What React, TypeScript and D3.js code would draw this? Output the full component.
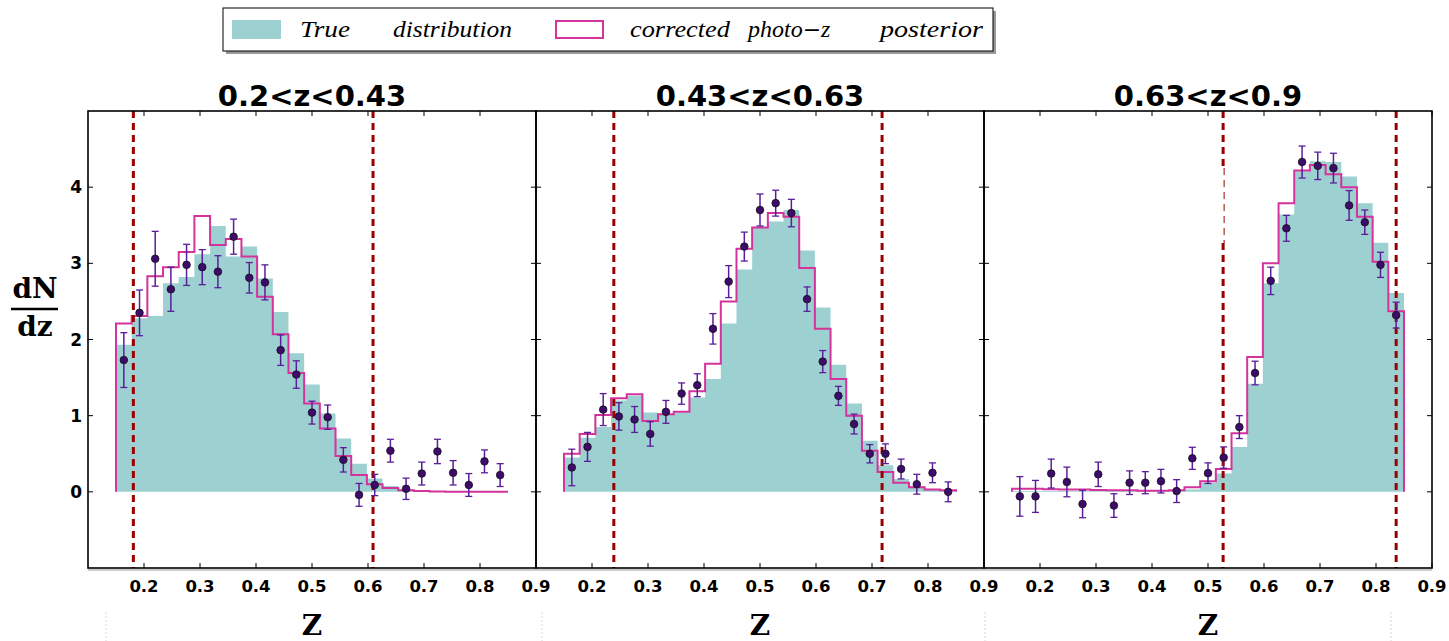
import React from "react";
import * as d3 from "d3";

// ---------- data ----------
const binEdges = [0.150, 0.178, 0.206, 0.234, 0.262, 0.290, 0.318, 0.346, 0.374, 0.402, 0.430, 0.458, 0.486, 0.514, 0.542, 0.570, 0.598, 0.626, 0.654, 0.682, 0.710, 0.738, 0.766, 0.794, 0.822, 0.850];

const panelTitles = ["0.2<z<0.43", "0.43<z<0.63", "0.63<z<0.9"];

const p1True = [1.93, 2.28, 2.31, 2.74, 2.82, 3.12, 3.49, 3.09, 3.22, 2.80, 2.36, 1.82, 1.41, 1.03, 0.70, 0.37, 0.175, 0.075, 0.03, 0.01, 0.005, 0, 0, 0, 0];
const p1Corr = [2.21, 2.31, 2.83, 2.95, 3.15, 3.62, 3.24, 3.32, 3.09, 2.56, 2.07, 1.56, 1.16, 0.83, 0.47, 0.22, 0.10, 0.05, 0.02, 0.01, 0.005, 0, 0, 0, 0];
const p1Pts = [1.73, 2.35, 3.06, 2.66, 2.98, 2.95, 2.89, 3.35, 2.81, 2.75, 1.86, 1.54, 1.04, 0.98, 0.42, -0.04, 0.09, 0.54, 0.04, 0.24, 0.53, 0.25, 0.09, 0.40, 0.22];
const p1Err = [0.36, 0.30, 0.36, 0.29, 0.27, 0.23, 0.21, 0.23, 0.20, 0.23, 0.20, 0.18, 0.15, 0.16, 0.16, 0.15, 0.14, 0.15, 0.14, 0.15, 0.16, 0.16, 0.15, 0.15, 0.15];

const p2True = [0.45, 0.71, 0.85, 1.20, 1.26, 1.04, 1.02, 1.04, 1.24, 1.48, 2.21, 2.92, 3.47, 3.55, 3.70, 3.17, 2.42, 1.67, 1.16, 0.67, 0.35, 0.17, 0.07, 0.03, 0.01];
const p2Corr = [0.50, 0.76, 1.01, 1.23, 1.28, 0.93, 1.02, 1.05, 1.32, 1.68, 2.50, 3.19, 3.47, 3.66, 3.61, 2.94, 2.14, 1.48, 1.00, 0.54, 0.26, 0.12, 0.06, 0.03, 0.02];
const p2Pts = [0.32, 0.59, 1.08, 0.99, 0.95, 0.76, 1.05, 1.29, 1.40, 2.14, 2.76, 3.22, 3.70, 3.79, 3.66, 2.53, 1.71, 1.26, 0.89, 0.50, 0.50, 0.30, 0.10, 0.25, 0.00];
const p2Err = [0.24, 0.19, 0.21, 0.18, 0.17, 0.16, 0.15, 0.14, 0.15, 0.20, 0.21, 0.19, 0.21, 0.17, 0.18, 0.16, 0.145, 0.125, 0.13, 0.12, 0.13, 0.13, 0.13, 0.13, 0.13];

const p3True = [0.01, 0.01, 0.01, 0.01, 0.01, 0.01, 0.01, 0.01, 0.01, 0.01, 0.02, 0.03, 0.12, 0.24, 0.59, 1.42, 2.74, 3.64, 4.21, 4.34, 4.33, 4.14, 3.79, 3.27, 2.61];
const p3Corr = [0.04, 0.04, 0.035, 0.03, 0.03, 0.025, 0.02, 0.02, 0.015, 0.015, 0.02, 0.06, 0.14, 0.30, 0.77, 1.77, 3.00, 3.79, 4.22, 4.29, 4.17, 4.00, 3.61, 3.02, 2.37];
const p3Pts = [-0.06, -0.06, 0.24, 0.13, -0.16, 0.23, -0.18, 0.12, 0.12, 0.14, 0.01, 0.44, 0.245, 0.45, 0.85, 1.56, 2.77, 3.46, 4.33, 4.28, 4.25, 3.76, 3.54, 2.98, 2.32];
const p3Err = [0.26, 0.21, 0.19, 0.195, 0.18, 0.16, 0.155, 0.155, 0.145, 0.155, 0.15, 0.145, 0.135, 0.14, 0.15, 0.155, 0.18, 0.17, 0.21, 0.18, 0.195, 0.195, 0.16, 0.165, 0.17];

const cutLines = [[0.181, 0.609], [0.239, 0.718], [0.527, 0.836]];

const xTicks = [0.2, 0.3, 0.4, 0.5, 0.6, 0.7, 0.8, 0.9];
const yTicks = [0, 1, 2, 3, 4];

const panels = [
  { title: panelTitles[0], tru: p1True, corr: p1Corr, pts: p1Pts, err: p1Err, cuts: cutLines[0] },
  { title: panelTitles[1], tru: p2True, corr: p2Corr, pts: p2Pts, err: p2Err, cuts: cutLines[1] },
  { title: panelTitles[2], tru: p3True, corr: p3Corr, pts: p3Pts, err: p3Err, cuts: cutLines[2] },
];

// ---------- styles ----------
const W = 1449, H = 641;
const PANEL_W = 448;
const LEFT = 88, TOP = 111, BOTTOM = 568;
const TEAL = "#9dd1d1";
const MAGENTA = "#d3339a";
const DARKRED = "#990000";
const DOT = "#3e0a6c";
const ERR = "#5a1e9a";
const SANS = "'DejaVu Sans', sans-serif";
const SERIF = "'DejaVu Serif', serif";
const LSERIF = "'Liberation Serif', serif";

const y = d3.scaleLinear().domain([-1, 5]).range([BOTTOM, TOP]);

function Panel({ idx, p }: { idx: number; p: typeof panels[0] }) {
  const x0 = LEFT + idx * PANEL_W;
  const x = d3.scaleLinear().domain([0.1, 0.9]).range([x0, x0 + PANEL_W]);
  const n = p.tru.length;

  const trueArr: [number, number][] = [];
  for (let i = 0; i < n; i++) trueArr.push([binEdges[i], p.tru[i]]);
  trueArr.push([binEdges[n], p.tru[n - 1]]);

  const area = d3
    .area<[number, number]>()
    .x((d) => x(d[0]))
    .y0(y(0))
    .y1((d) => y(d[1]))
    .curve(d3.curveStepAfter);

  let corrPath = `M${x(binEdges[0])},${y(0)}`;
  for (let i = 0; i < n; i++) {
    corrPath += `V${y(p.corr[i])}H${x(binEdges[i + 1])}`;
  }
  corrPath += `V${y(0)}`;

  const centers = p.pts.map((_, i) => (binEdges[i] + binEdges[i + 1]) / 2);

  return (
    <g>
      <path d={area(trueArr) || ""} fill={TEAL} />
      <path d={corrPath} fill="none" stroke={MAGENTA} strokeWidth={2} strokeLinejoin="miter" />
      {p.cuts.map((c, k) => {
        const cx = x(c);
        if (idx === 2 && k === 0) {
          return (
            <g key={k}>
              <line x1={cx} x2={cx} y1={TOP} y2={168} stroke={DARKRED} strokeWidth={3} strokeDasharray="7,5" />
              <line x1={cx + 1} x2={cx + 1} y1={168} y2={243} stroke={DARKRED} strokeWidth={1} strokeDasharray="7,5" />
              <line x1={cx} x2={cx} y1={243} y2={BOTTOM} stroke={DARKRED} strokeWidth={3} strokeDasharray="7,5" />
            </g>
          );
        }
        return <line key={k} x1={cx} x2={cx} y1={TOP} y2={BOTTOM} stroke={DARKRED} strokeWidth={3} strokeDasharray="7,5" />;
      })}
      {p.pts.map((v, i) => {
        const cx = x(centers[i]);
        const e = p.err[i];
        const yt = y(v + e), yb = y(v - e);
        return (
          <g key={i}>
            <line x1={cx} x2={cx} y1={yt} y2={yb} stroke={ERR} strokeWidth={1.5} />
            <line x1={cx - 3.5} x2={cx + 3.5} y1={yt} y2={yt} stroke={ERR} strokeWidth={1.3} />
            <line x1={cx - 3.5} x2={cx + 3.5} y1={yb} y2={yb} stroke={ERR} strokeWidth={1.3} />
            <circle cx={cx} cy={y(v)} r={3.8} fill={DOT} stroke="#111" strokeWidth={0.8} />
          </g>
        );
      })}
      {xTicks.map((t) => (
        <g key={"xt" + t}>
          <line x1={x(t)} x2={x(t)} y1={BOTTOM} y2={BOTTOM - 5} stroke="#000" strokeWidth={1} />
          <line x1={x(t)} x2={x(t)} y1={TOP} y2={TOP + 5} stroke="#000" strokeWidth={1} />
          <text x={x(t)} y={592} textAnchor="middle" fontFamily={SANS} fontWeight="bold" fontSize={16.5}>
            {t.toFixed(1)}
          </text>
        </g>
      ))}
      {yTicks.map((t) => (
        <g key={"yt" + t}>
          <line x1={x0} x2={x0 + 5} y1={y(t)} y2={y(t)} stroke="#000" strokeWidth={1} />
          <line x1={x0 + PANEL_W} x2={x0 + PANEL_W - 5} y1={y(t)} y2={y(t)} stroke="#000" strokeWidth={1} />
        </g>
      ))}
      <rect x={x0} y={TOP} width={PANEL_W} height={BOTTOM - TOP} fill="none" stroke="#000" strokeWidth={1.6} />
      <text x={x0 + PANEL_W / 2} y={106} textAnchor="middle" fontFamily={SANS} fontWeight="bold" fontSize={29}>
        {p.title}
      </text>
      <text x={x0 + PANEL_W / 2} y={635} textAnchor="middle" fontFamily={SERIF} fontWeight="bold" fontSize={28}>
        Z
      </text>
    </g>
  );
}

export default function App() {
  return (
    <svg width={W} height={H} style={{ display: "block", position: "absolute", left: 0, top: 0 }}>
      <rect x={0} y={0} width={W} height={H} fill="#fff" />
      {[106, 542, 985, 1391].map((sx) => (
        <line key={sx} x1={sx} x2={sx} y1={612} y2={641} stroke="#d8d8d8" strokeWidth={1} strokeDasharray="2,2" />
      ))}
      <line x1={LEFT} x2={LEFT + 3 * PANEL_W} y1={BOTTOM + 2} y2={BOTTOM + 2} stroke="#999" strokeWidth={1.2} />
      {panels.map((p, i) => (
        <Panel key={i} idx={i} p={p} />
      ))}
      {yTicks.map((t) => (
        <text key={t} x={82} y={y(t)} dy="0.36em" textAnchor="end" fontFamily={SANS} fontWeight="bold" fontSize={17}>
          {t}
        </text>
      ))}
      <text x={35} y={298} textAnchor="middle" fontFamily={SERIF} fontWeight="bold" fontSize={28}>dN</text>
      <line x1={11} x2={58} y1={309} y2={309} stroke="#000" strokeWidth={2.5} />
      <text x={35} y={336} textAnchor="middle" fontFamily={SERIF} fontWeight="bold" fontSize={28}>dz</text>
      {/* legend */}
      <rect x={226} y={11} width={770} height={43} fill="#999" />
      <rect x={223} y={8} width={770} height={43} fill="#fff" stroke="#000" strokeWidth={1} />
      <rect x={232} y={20} width={49} height={19} fill={TEAL} />
      <text x={300} y={37} fontFamily={LSERIF} fontStyle="italic" fontSize={24} textLength={50} lengthAdjust="spacingAndGlyphs">True</text>
      <text x={393} y={37} fontFamily={LSERIF} fontStyle="italic" fontSize={24} textLength={119} lengthAdjust="spacingAndGlyphs">distribution</text>
      <rect x={556} y={21} width={47} height={17} fill="none" stroke={MAGENTA} strokeWidth={2} />
      <text x={630} y={37} fontFamily={LSERIF} fontStyle="italic" fontSize={24} textLength={100} lengthAdjust="spacingAndGlyphs">corrected</text>
      <text x={748} y={37} fontFamily={LSERIF} fontStyle="italic" fontSize={24}>
        <tspan>photo</tspan>
        <tspan fontFamily={SERIF} fontStyle="normal" fontSize={22}>−</tspan>
        <tspan>z</tspan>
      </text>
      <text x={880} y={37} fontFamily={LSERIF} fontStyle="italic" fontSize={24} textLength={103} lengthAdjust="spacingAndGlyphs">posterior</text>
    </svg>
  );
}
